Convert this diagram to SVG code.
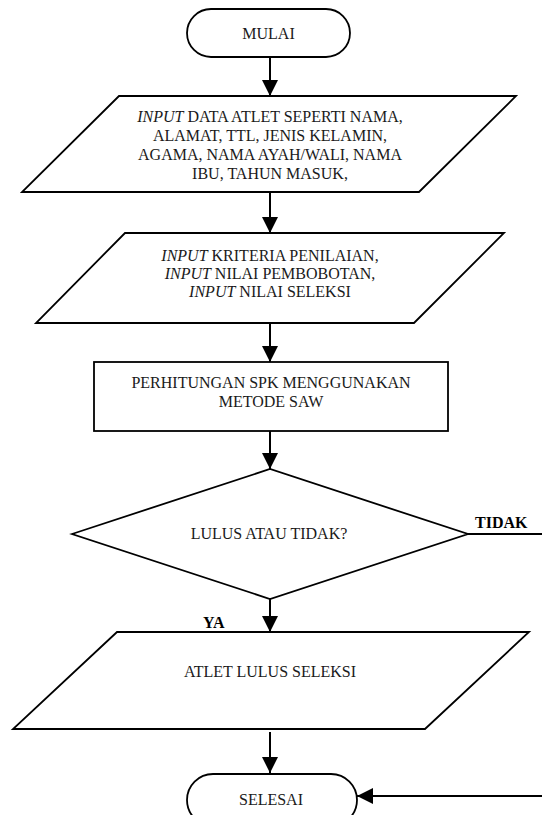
<svg xmlns="http://www.w3.org/2000/svg" width="542" height="815" viewBox="0 0 542 815">
<style>
.s{fill:#fff;stroke:#000;stroke-width:1.8}
.t{font-family:"Liberation Serif","Times New Roman",serif;font-size:16px;fill:#1a1a1a;text-anchor:middle}
.b{font-weight:bold;text-anchor:start;fill:#000}
.i{font-style:italic}
.c{fill:none;stroke:#000;stroke-width:2}
</style>
<defs>
<marker id="ah" markerUnits="userSpaceOnUse" markerWidth="16" markerHeight="16" viewBox="0 0 16 16" refX="16" refY="8" orient="auto">
<path d="M0 0 L16 8 L0 16 Z" fill="#000"/>
</marker>
</defs>
<rect width="542" height="815" fill="#fff"/>
<g id="connectors">
<line class="c" x1="270" y1="57" x2="270" y2="96" marker-end="url(#ah)"/>
<line class="c" x1="270" y1="192" x2="270" y2="233" marker-end="url(#ah)"/>
<line class="c" x1="270" y1="323" x2="270" y2="362" marker-end="url(#ah)"/>
<line class="c" x1="270" y1="431" x2="270" y2="469" marker-end="url(#ah)"/>
<line class="c" x1="270" y1="599" x2="270" y2="632" marker-end="url(#ah)"/>
<line class="c" x1="270" y1="732" x2="270" y2="773" marker-end="url(#ah)"/>
<line class="c" x1="468" y1="534" x2="542" y2="534"/>
<line class="c" x1="542" y1="796" x2="357" y2="796" marker-end="url(#ah)"/>
<text class="t b" x="475" y="528">TIDAK</text>
<text class="t b" x="203" y="628">YA</text>
</g>
<g id="mulai">
<rect class="s" x="187" y="9" width="163" height="48" rx="24"/>
<text class="t" x="268.5" y="38.5">MULAI</text>
</g>
<g id="input-data">
<polygon class="s" points="119,96 516,96 419,192 22,192"/>
<text class="t" x="270" y="122"><tspan class="i">INPUT</tspan> DATA ATLET SEPERTI NAMA,</text>
<text class="t" x="270" y="141">ALAMAT, TTL, JENIS KELAMIN,</text>
<text class="t" x="270" y="160">AGAMA, NAMA AYAH/WALI, NAMA</text>
<text class="t" x="270" y="179">IBU, TAHUN MASUK,</text>
</g>
<g id="input-kriteria">
<polygon class="s" points="125,233 504,233 414,323 36,323"/>
<text class="t" x="270" y="261"><tspan class="i">INPUT</tspan> KRITERIA PENILAIAN,</text>
<text class="t" x="270" y="279"><tspan class="i">INPUT</tspan> NILAI PEMBOBOTAN,</text>
<text class="t" x="270" y="297"><tspan class="i">INPUT</tspan> NILAI SELEKSI</text>
</g>
<g id="perhitungan">
<rect class="s" x="94" y="362" width="354" height="69" stroke-width="2.2"/>
<text class="t" x="271" y="388">PERHITUNGAN SPK MENGGUNAKAN</text>
<text class="t" x="271" y="407">METODE SAW</text>
</g>
<g id="keputusan">
<polygon class="s" points="72,534 270,469 468,534 270,599"/>
<text class="t" x="269" y="539">LULUS ATAU TIDAK?</text>
</g>
<g id="output">
<polygon class="s" points="117,632 529,632 425,729 13,729"/>
<text class="t" x="270" y="677">ATLET LULUS SELEKSI</text>
</g>
<g id="selesai">
<rect class="s" x="187" y="774" width="170" height="52" rx="26"/>
<text class="t" x="271" y="805">SELESAI</text>
</g>
</svg>
